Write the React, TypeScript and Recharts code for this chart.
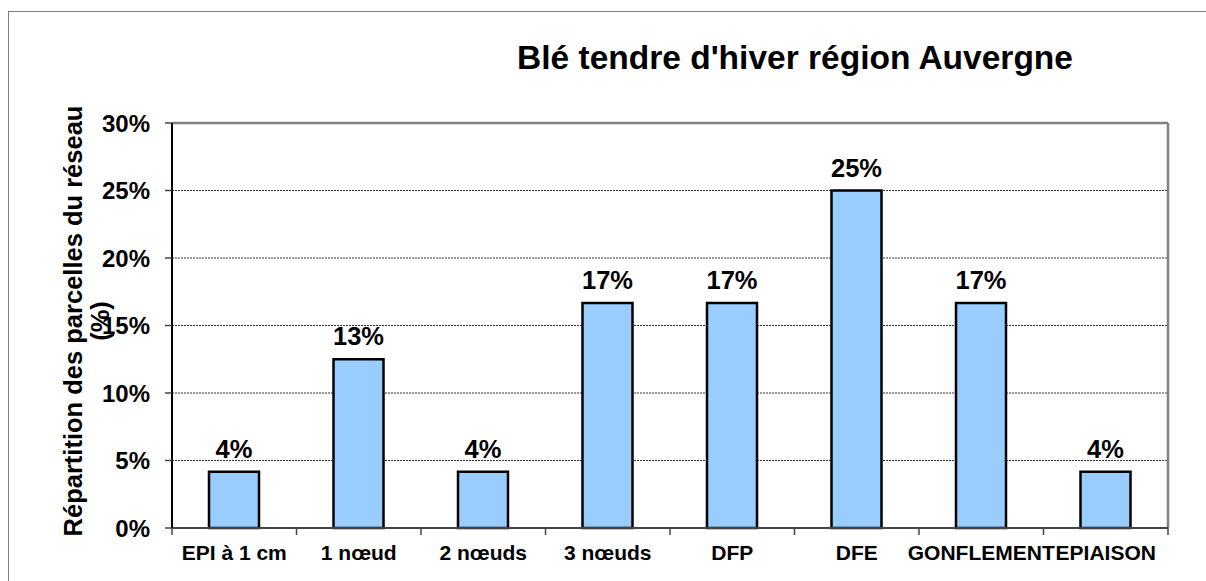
import React from 'react';
import { BarChart, Bar, XAxis, YAxis, CartesianGrid, LabelList, ReferenceLine } from 'recharts';

const categories = ['EPI à 1 cm', '1 nœud', '2 nœuds', '3 nœuds', 'DFP', 'DFE', 'GONFLEMENT', 'EPIAISON'];
const shares = [4.17, 12.5, 4.17, 16.67, 16.67, 25, 16.67, 4.17];
const yTicks = [0, 5, 10, 15, 20, 25, 30];
const title = "Blé tendre d'hiver région Auvergne";
const yLabelLines = ['Répartition des parcelles du réseau', '(%)'];

const data = categories.map((c, i) => ({ name: c, value: shares[i] }));
const FONT = '"Liberation Sans", Arial, sans-serif';

const YLabel = () => (
  <g>
    <text x={73} y={321} transform="rotate(-90 73 321)" textAnchor="middle" dominantBaseline="central"
      fontFamily={FONT} fontWeight="bold" fontSize={25.5} fill="#000">{yLabelLines[0]}</text>
    <text x={100} y={321} transform="rotate(-90 100 321)" textAnchor="middle" dominantBaseline="central"
      fontFamily={FONT} fontWeight="bold" fontSize={25.5} fill="#000">{yLabelLines[1]}</text>
  </g>
);

const XTick = (props: any) => {
  const { x, y, payload, index } = props;
  const half = payload && payload.offset ? payload.offset : 0;
  const isLast = index === categories.length - 1;
  return (
    <g>
      <line x1={x - half} x2={x - half} y1={y} y2={y + 7} stroke="#444" strokeWidth={1.5} />
      {isLast && <line x1={x + half} x2={x + half} y1={y} y2={y + 7} stroke="#444" strokeWidth={1.5} />}
      <text x={x} y={y + 32} textAnchor="middle" fontFamily={FONT} fontWeight="bold" fontSize={21} fill="#000">
        {payload.value}
      </text>
    </g>
  );
};

export default function App() {
  return (
    <div style={{ position: 'fixed', left: 0, top: 0, width: 1206, height: 581, overflow: 'hidden', background: '#fff' }}>
      <div style={{ position: 'absolute', left: 8, top: 11, width: 1400, height: 800, border: '1px solid #808080' }} />
      <div style={{ position: 'absolute', left: 395, top: 41, width: 800, textAlign: 'center', fontFamily: FONT, fontWeight: 'bold', fontSize: 33.5, lineHeight: 1, color: '#000', whiteSpace: 'nowrap' }}>
        {title}
      </div>
      <div style={{ position: 'absolute', left: 0, top: 0 }}>
        <BarChart width={1206} height={581} data={data} margin={{ top: 123, right: 38, bottom: 23, left: 0 }}>
          <CartesianGrid horizontal vertical={false} stroke="#333" strokeDasharray="2 1" strokeWidth={1} />
          <CartesianGrid horizontal={false} vertical stroke="#808080" strokeWidth={2.5}
            verticalCoordinatesGenerator={({ offset }: any) => [offset.left + offset.width]} />
          <XAxis dataKey="name" height={30} tickLine={false} tickSize={0} tickMargin={0} interval={0}
            axisLine={{ stroke: '#444', strokeWidth: 2 }}
            tick={<XTick />} />
          <YAxis width={172} domain={[0, 30]} ticks={yTicks} tickFormatter={(v) => `${v}%`}
            axisLine={{ stroke: '#000', strokeWidth: 2 }} tickLine={{ stroke: '#444', strokeWidth: 1.5 }}
            tickSize={7} tickMargin={15}
            tick={{ fontFamily: FONT, fontWeight: 'bold', fontSize: 24, fill: '#000' }}
            label={{ content: () => <YLabel /> }} />
          <ReferenceLine y={30} stroke="#808080" strokeWidth={2.5} />
          <Bar dataKey="value" fill="#99CCFF" stroke="#000" strokeWidth={2.5} barSize={50} isAnimationActive={false}>
            <LabelList dataKey="value" position="top" offset={14} formatter={(v: any) => `${Math.round(Number(v))}%`}
              style={{ fontFamily: FONT, fontWeight: 'bold', fontSize: 25.5, fill: '#000' }} />
          </Bar>
        </BarChart>
      </div>
    </div>
  );
}
